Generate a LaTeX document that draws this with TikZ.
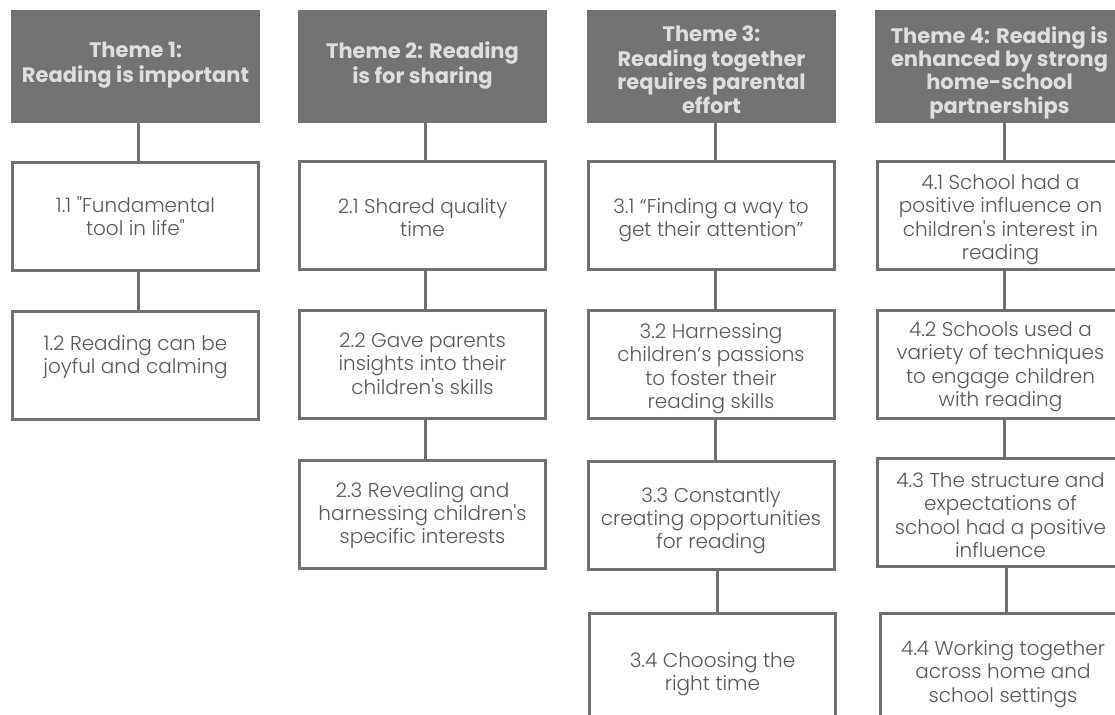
\documentclass[tikz,border=0pt]{standalone}
\usepackage{fontspec}
\setmainfont{Poppins}
\newfontfamily\bodyfont{Poppins Light}
\definecolor{hdrfill}{HTML}{737373}
\definecolor{hdrtext}{HTML}{DEDEDE}
\definecolor{edge}{HTML}{707070}
\definecolor{bodytext}{HTML}{585858}
\newcommand\hdrtxt[2]{\parbox[c][113pt][t]{249pt}{\centering\vspace*{#1pt}\strut #2}}
\newcommand\bodytxt[2]{\parbox[c][108pt][t]{246pt}{\centering\vspace*{#1pt}\strut #2}}
\tikzset{
  hdr/.style={fill=hdrfill, draw=none, text=hdrtext, inner sep=0pt, outer sep=0pt,
    font=\fontsize{21}{23.3}\selectfont\bfseries},
  sub/.style={draw=edge, line width=3pt, fill=white, text=bodytext, inner sep=0pt,
    font=\bodyfont\fontsize{20}{23.3}\selectfont},
  link/.style={draw=edge, line width=3pt}
}
\begin{document}
\begin{tikzpicture}[x=1pt,y=-1pt]
\useasboundingbox (0,0) rectangle (1115,714);
% column 1
\node[hdr] (h1) at (135.5,66.5) {\hdrtxt{31.4}{Theme 1:\\Reading is important}};
\node[sub] (b11) at (135.5,216.5) {\bodytxt{33.8}{1.1 "Fundamental\\tool in life"}};
\node[sub] (b12) at (135.5,365.5) {\bodytxt{22.8}{1.2 Reading can be\\joyful and calming}};
% column 2
\node[hdr] (h2) at (422.5,66.5) {\hdrtxt{31.4}{Theme 2: Reading\\is for sharing}};
\node[sub] (b21) at (422.5,215.5) {\bodytxt{35.8}{2.1 Shared quality\\time}};
\node[sub] (b22) at (422.5,364.5) {\bodytxt{20.8}{2.2 Gave parents\\insights into their\\children's skills}};
\node[sub] (b23) at (422.5,514) {\bodytxt{20.8}{2.3 Revealing and\\harnessing children's\\specific interests}};
% column 3
\node[hdr] (h3) at (711.5,66.5) {\hdrtxt{15.4}{Theme 3:\\Reading together\\requires parental\\effort}};
\node[sub] (b31) at (711,215.5) {\bodytxt{35.8}{3.1 “Finding a way to\\get their attention”}};
\node[sub] (b32) at (711,364.5) {\bodytxt{11.8}{3.2 Harnessing\\children’s passions\\to foster their\\reading skills}};
\node[sub] (b33) at (711,515) {\bodytxt{24.8}{3.3 Constantly\\creating opportunities\\for reading}};
\node[sub] (b34) at (712.5,667.5) {\bodytxt{37.8}{3.4 Choosing the\\right time}};
% column 4
\node[hdr] (h4) at (999.5,66.5) {\hdrtxt{16.4}{Theme 4: Reading is\\enhanced by strong\\home-school\\partnerships}};
\node[sub] (b41) at (1000.5,215.5) {\bodytxt{11.8}{4.1 School had a\\positive influence on\\children's interest in\\reading}};
\node[sub] (b42) at (1000.5,364.5) {\bodytxt{9.8}{4.2 Schools used a\\variety of techniques\\to engage children\\with reading}};
\node[sub] (b43) at (1000.5,512.5) {\bodytxt{12.8}{4.3 The structure and\\expectations of\\school had a positive\\influence}};
\node[sub] (b44) at (1003,667.5) {\bodytxt{25.8}{4.4 Working together\\across home and\\school settings}};
% connectors
\draw[link] ([xshift=3pt]h1.south) -- ([xshift=3pt]h1.south |- b11.north);
\draw[link] ([xshift=3pt]b11.south) -- ([xshift=3pt]b11.south |- b12.north);
\draw[link] ([xshift=2.5pt]h2.south) -- ([xshift=2.5pt]h2.south |- b21.north);
\draw[link] ([xshift=2.5pt]b21.south) -- ([xshift=2.5pt]b21.south |- b22.north);
\draw[link] ([xshift=2.5pt]b22.south) -- ([xshift=2.5pt]b22.south |- b23.north);
\draw[link] ([xshift=4pt]b31.north |- h3.south) -- ([xshift=4pt]b31.north);
\draw[link] ([xshift=4pt]b31.south) -- ([xshift=4pt]b31.south |- b32.north);
\draw[link] ([xshift=4pt]b32.south) -- ([xshift=4pt]b32.south |- b33.north);
\draw[link] ([xshift=6pt]b33.south) -- ([xshift=6pt]b33.south |- b34.north);
\draw[link] ([xshift=4pt]b41.north |- h4.south) -- ([xshift=4pt]b41.north);
\draw[link] ([xshift=4pt]b41.south) -- ([xshift=4pt]b41.south |- b42.north);
\draw[link] ([xshift=4pt]b42.south) -- ([xshift=4pt]b42.south |- b43.north);
\draw[link] ([xshift=6pt]b43.south) -- ([xshift=6pt]b43.south |- b44.north);
\end{tikzpicture}
\end{document}
